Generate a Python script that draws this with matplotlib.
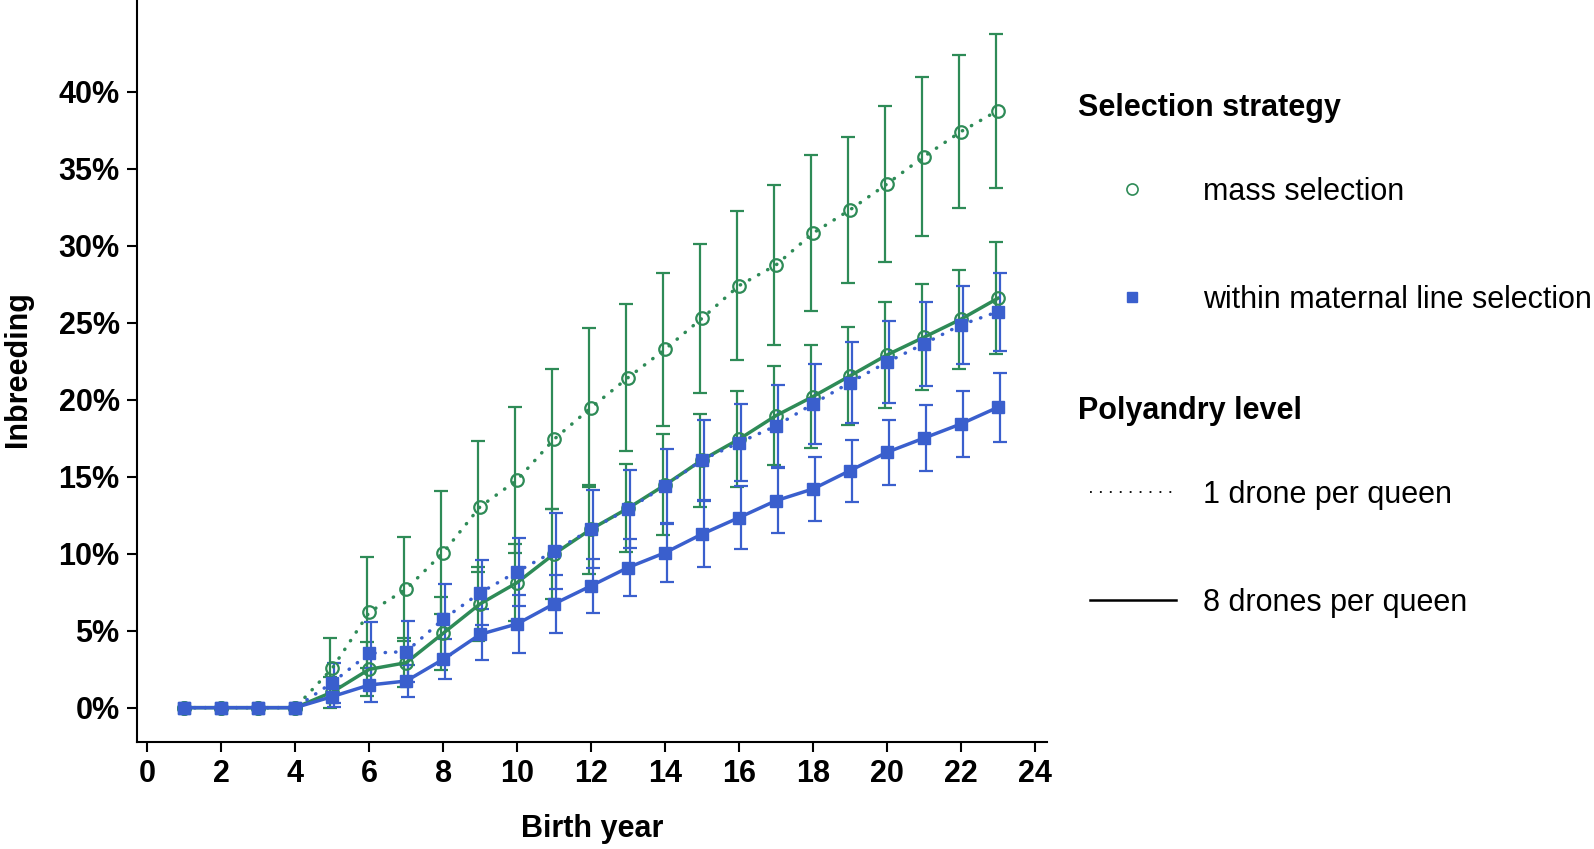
import matplotlib
matplotlib.use("Agg")
import matplotlib.pyplot as plt
from matplotlib.lines import Line2D
from matplotlib.ticker import FuncFormatter
import numpy as np

plt.rcParams['font.family'] = ['Liberation Sans', 'DejaVu Sans']

# birth years
years = np.arange(1, 24)

# inbreeding (%) : mean and sd
mass_1 = [0, 0, 0, 0, 2.55, 6.19, 7.70, 10.06, 13.05, 14.78, 17.43, 19.48, 21.43,
          23.27, 25.28, 27.40, 28.74, 30.81, 32.32, 34.00, 35.78, 37.40, 38.77]
mass_1_sd = [0, 0, 0, 0, 2.0, 3.6, 3.4, 4.0, 4.25, 4.75, 4.55, 5.15, 4.75,
             4.95, 4.85, 4.85, 5.2, 5.05, 4.75, 5.05, 5.15, 4.95, 5.0]

mass_8 = [0, 0, 0, 0, 1.01, 2.49, 2.92, 4.83, 6.74, 8.12, 9.98, 11.59, 12.95,
          14.46, 16.08, 17.43, 18.96, 20.20, 21.54, 22.90, 24.05, 25.22, 26.58]
mass_8_sd = [0, 0, 0, 0, 1.0, 1.75, 1.6, 2.37, 2.42, 2.52, 2.92, 2.9, 2.87,
             3.28, 3.02, 3.13, 3.23, 3.33, 3.18, 3.43, 3.43, 3.23, 3.63]

wml_1 = [0, 0, 0, 0, 1.62, 3.53, 3.64, 5.74, 7.46, 8.83, 10.15, 11.59, 12.89,
         14.40, 16.08, 17.21, 18.29, 19.72, 21.11, 22.43, 23.62, 24.85, 25.71]
wml_1_sd = [0, 0, 0, 0, 1.3, 2.0, 2.0, 2.3, 2.1, 2.2, 2.47, 2.52, 2.52,
            2.42, 2.57, 2.52, 2.67, 2.62, 2.62, 2.67, 2.72, 2.52, 2.52]

wml_8 = [0, 0, 0, 0, 0.72, 1.47, 1.73, 3.14, 4.76, 5.44, 6.74, 7.91, 9.10,
         10.06, 11.27, 12.34, 13.44, 14.20, 15.39, 16.58, 17.50, 18.42, 19.50]
wml_8_sd = [0, 0, 0, 0, 0.7, 1.1, 1.06, 1.31, 1.66, 1.87, 1.87, 1.76, 1.82,
            1.87, 2.12, 2.07, 2.12, 2.07, 2.02, 2.12, 2.12, 2.12, 2.22]

green = '#2e8b57'
blue = '#3a5fcd'
dotted = (0, (0.1, 2.9))

W, H = 1594, 849
fig = plt.figure(figsize=(W / 100, H / 100), dpi=100)
ax = fig.add_axes([137 / W, 1 - 742 / H, (1047 - 137) / W, 742 / H])

series = [
    (mass_1, mass_1_sd, green, dotted, 'o', -0.055),
    (mass_8, mass_8_sd, green, '-', 'o', -0.055),
    (wml_1, wml_1_sd, blue, dotted, 's', 0.06),
    (wml_8, wml_8_sd, blue, '-', 's', 0.06),
]

for vals, sd, col, ls, mk, off in series:
    vals = np.array(vals)
    sd = np.array(sd)
    m = sd > 0
    ax.errorbar(years[m] + off, vals[m], yerr=sd[m], fmt='none', ecolor=col,
                elinewidth=1.6, capsize=5, capthick=1.6, zorder=2)
    if mk == 'o':
        ax.plot(years, vals, color=col, ls=ls, lw=2.5, marker='o', ms=9,
                mfc='none', mec=col, mew=1.6, dash_capstyle='round', zorder=3)
    else:
        ax.plot(years, vals, color=col, ls=ls, lw=2.5, marker='s', ms=8.5,
                mfc=col, mec=col, dash_capstyle='round', zorder=3)

ax.set_xlim(-0.28, 24.33)
ax.set_ylim(-2.23, 45.95)
ax.set_xticks(range(0, 25, 2))
ax.set_yticks(range(0, 45, 5))
ax.yaxis.set_major_formatter(FuncFormatter(lambda v, p: '{:d}%'.format(int(v))))

for s in ['top', 'right']:
    ax.spines[s].set_visible(False)
for s in ['left', 'bottom']:
    ax.spines[s].set_linewidth(1.5)

ax.tick_params(axis='both', direction='out', length=7, width=1.5, pad=5.5,
               labelsize=22)
for lab in ax.get_xticklabels() + ax.get_yticklabels():
    lab.set_fontweight('bold')

fig.text(592 / W, 1 - 829 / H, 'Birth year', fontsize=22, fontweight='bold',
         ha='center', va='center')
fig.text(18 / W, 1 - 369 / H, 'Inbreeding', fontsize=22, fontweight='bold',
         ha='center', va='center', rotation=90)

# legend drawn by hand on the right
def fx(x):
    return x / W

def fy(y):
    return 1 - y / H

fig.text(fx(1078), fy(108), 'Selection strategy', fontsize=22, fontweight='bold',
         va='center')
fig.add_artist(Line2D([fx(1132)], [fy(189)], transform=fig.transFigure, ls='none',
                      marker='o', ms=8, mfc='none', mec=green, mew=1.2))
fig.text(fx(1203), fy(192), 'mass selection', fontsize=22, va='center')
fig.add_artist(Line2D([fx(1132)], [fy(297)], transform=fig.transFigure, ls='none',
                      marker='s', ms=7.5, mfc=blue, mec=blue))
fig.text(fx(1203), fy(300), 'within maternal line selection', fontsize=22, va='center')

fig.text(fx(1078), fy(411), 'Polyandry level', fontsize=22, fontweight='bold',
         va='center')
fig.add_artist(Line2D([fx(1090), fx(1174)], [fy(492), fy(492)], transform=fig.transFigure,
                      color='black', lw=1.3, ls=(0, (1, 4.5))))
fig.text(fx(1203), fy(495), '1 drone per queen', fontsize=22, va='center')
fig.add_artist(Line2D([fx(1090), fx(1176)], [fy(600), fy(600)], transform=fig.transFigure,
                      color='black', lw=1.8))
fig.text(fx(1203), fy(603), '8 drones per queen', fontsize=22, va='center')

fig.savefig('out.png', dpi=100)
